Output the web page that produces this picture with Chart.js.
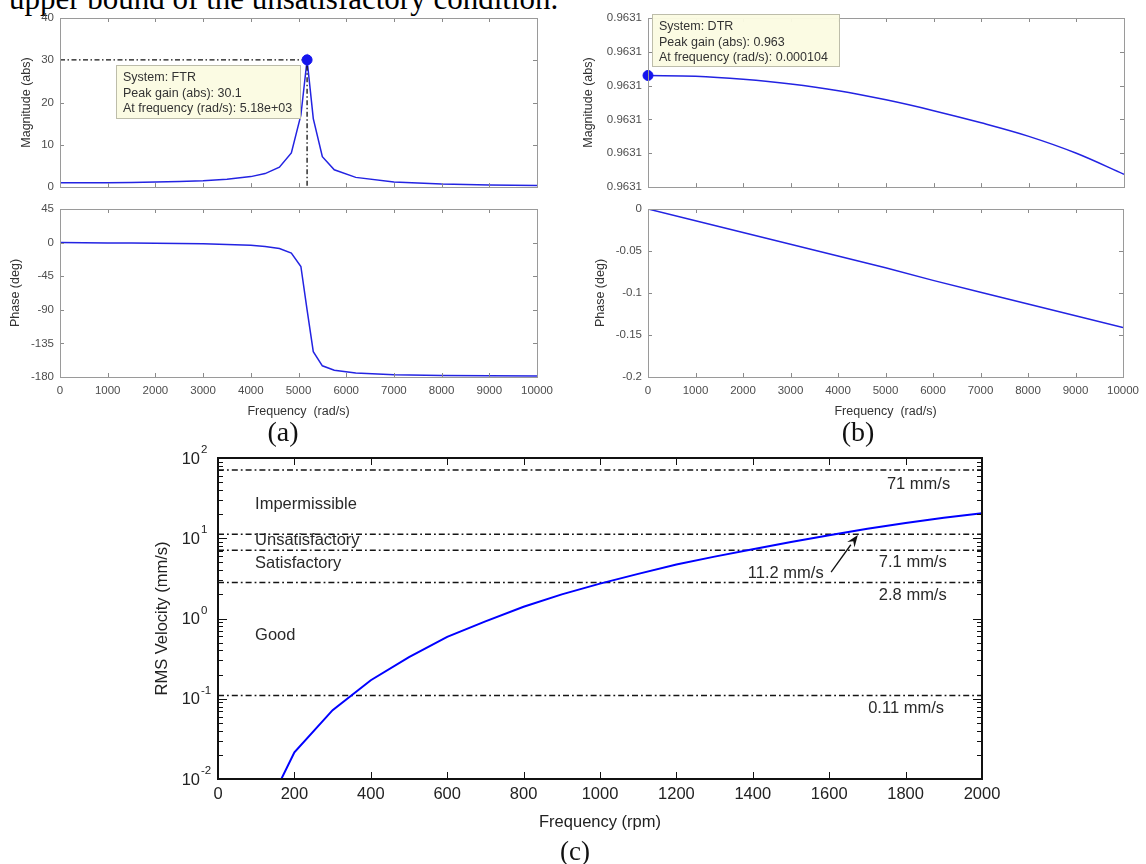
<!DOCTYPE html>
<html>
<head>
<meta charset="utf-8">
<script src="https://cdn.jsdelivr.net/npm/chart.js@4.4.1/dist/chart.umd.min.js"></script>
<style>
html,body{margin:0;padding:0;background:#fff;}
body{width:1146px;height:864px;position:relative;overflow:hidden;font-family:"Liberation Sans",Arial,sans-serif;}
.cv{position:absolute;}
.cap{position:absolute;font-family:"Liberation Serif","Times New Roman",serif;color:#111;line-height:1;transform:translate(-50%,-50%);white-space:nowrap;}
#toptext{position:absolute;left:9px;top:-17px;font-family:"Liberation Serif","Times New Roman",serif;font-size:31px;line-height:1;color:#000;white-space:nowrap;}
</style>
</head>
<body>
<div id="toptext">upper bound of the unsatisfactory condition.</div>
<canvas id="a1" class="cv" width="560" height="200" style="left:0;top:0"></canvas>
<canvas id="a2" class="cv" width="560" height="230" style="left:0;top:195px"></canvas>
<canvas id="b1" class="cv" width="576" height="200" style="left:570px;top:0"></canvas>
<canvas id="b2" class="cv" width="576" height="230" style="left:570px;top:195px"></canvas>
<canvas id="c" class="cv" width="880" height="424" style="left:140px;top:440px"></canvas>
<div class="cap" style="left:283px;top:432px;font-size:28px">(a)</div>
<div class="cap" style="left:858px;top:432px;font-size:28px">(b)</div>
<div class="cap" style="left:575px;top:851px;font-size:27px">(c)</div>
<script>
// ---------------- data ----------------
const freqTicks = [0,1000,2000,3000,4000,5000,6000,7000,8000,9000,10000];

// (a) FTR bode
const ftrFreq  = [0,500,1000,1500,2000,2500,3000,3500,4000,4300,4600,4850,5050,5180,5310,5500,5750,6200,7000,8000,9000,10000];
const ftrMag   = [1.00,1.01,1.04,1.09,1.18,1.30,1.50,1.84,2.48,3.2,4.7,8.1,17.0,30.1,16.2,7.2,4.1,2.3,1.21,0.72,0.50,0.37];
const ftrPhase = [0,-0.2,-0.4,-0.6,-0.9,-1.2,-1.7,-2.4,-3.6,-5.1,-8.0,-14,-32,-90,-146,-165,-171,-174.7,-176.9,-177.9,-178.4,-178.7];
const ftrPeakFreq = 5180;
const ftrPeakGain = 30.1;
const magATicks = [0,10,20,30,40];
const phaseATicks = [-180,-135,-90,-45,0,45];

// (b) DTR bode
const dtrFreq  = [0,1000,2000,3000,4000,5000,6000,7000,8000,9000,10000];
const dtrMag   = [0.9630930,0.9630928,0.9630919,0.9630905,0.9630885,0.9630858,0.9630826,0.9630790,0.9630750,0.9630700,0.9630638];
const dtrPhase = [0,-0.014,-0.028,-0.042,-0.056,-0.070,-0.085,-0.099,-0.113,-0.127,-0.141];
const dtrPeakFreq = 0;
const dtrPeakGain = 0.9630930;
const magBTicks  = [0.96306,0.96307,0.96308,0.96309,0.96310,0.96311];
const magBLabels = ['0.9631','0.9631','0.9631','0.9631','0.9631','0.9631'];
const phaseBTicks  = [-0.2,-0.15,-0.1,-0.05,0];
const phaseBLabels = ['-0.2','-0.15','-0.1','-0.05','0'];

// (c) RMS velocity
const rpm = [100,200,300,400,500,600,700,800,900,1000,1100,1200,1300,1400,1500,1600,1700,1800,1900,2000];
const rmsVel = [0.0023,0.0215,0.072,0.17,0.33,0.59,0.92,1.40,2.0,2.72,3.6,4.7,5.9,7.3,9.0,10.9,13.1,15.5,18.0,20.5];
const thresholds = [71,11.2,7.1,2.8,0.11];
const rpmTicks = [0,200,400,600,800,1000,1200,1400,1600,1800,2000];
const rmsDecades = [0.01,0.1,1,10,100];
const rmsExp = ['-2','-1','0','1','2'];

// ---------------- helpers ----------------
const FONT = '"Liberation Sans", Arial, sans-serif';
Chart.defaults.font.family = FONT;
const BLUE = '#2323e2';
const LBL = '#4d4d4d', TTL = '#333333';
const pts = (xs, ys) => xs.map((v, i) => ({x: v, y: ys[i]}));
const rmsMinor = [];
for (let d = 0; d < rmsDecades.length - 1; d++) for (let k = 2; k <= 9; k++) rmsMinor.push(rmsDecades[d] * k);

const extras = {
  a1: {frame: {xTicks: freqTicks, yTicks: magATicks, len: 4, color: '#8a8a8a', box: '#9a9a9a', boxW: 1},
       box: {x0: 1174, x1: 5052, y0: 16.1, y1: 28.97,
             lines: ['System: FTR', 'Peak gain (abs): 30.1', 'At frequency (rad/s): 5.18e+03']}},
  a2: {frame: {xTicks: freqTicks, yTicks: phaseATicks, len: 4, color: '#8a8a8a', box: '#9a9a9a', boxW: 1}},
  b1: {frame: {xTicks: freqTicks, yTicks: magBTicks, len: 4, color: '#8a8a8a', box: '#9a9a9a', boxW: 1},
       box: {x0: 84, x1: 4034, y0: 0.9630956, y1: 0.9631111,
             lines: ['System: DTR', 'Peak gain (abs): 0.963', 'At frequency (rad/s): 0.000104']}},
  b2: {frame: {xTicks: freqTicks, yTicks: phaseBTicks, len: 4, color: '#8a8a8a', box: '#9a9a9a', boxW: 1}},
  c: {frame: {xTicks: rpmTicks, yTicks: rmsDecades, yMinor: rmsMinor, len: 7, yLen: 9, minorLen: 5, color: '#111', box: '#111', boxW: 2},
      logLabels: true,
      texts: [
        {t: 'Impermissible', x: 97, y: 26.7},
        {t: 'Unsatisfactory', x: 97, y: 9.5},
        {t: 'Satisfactory', x: 97, y: 4.9},
        {t: 'Good', x: 97, y: 0.62},
        {t: '71 mm/s', x: 1751, y: 47.4},
        {t: '7.1 mm/s', x: 1730, y: 5.06},
        {t: '2.8 mm/s', x: 1730, y: 1.96},
        {t: '0.11 mm/s', x: 1702, y: 0.0767},
        {t: '11.2 mm/s', x: 1387, y: 3.69}
      ],
      arrow: {x0: 1605, y0: 3.79, x1: 1675, y1: 10.97}}
};

const framePlugin = {
  id: 'mframe',
  afterDatasetsDraw(chart) {
    const e = extras[chart.canvas.id]; if (!e || !e.frame) return;
    const f = e.frame;
    const {ctx, chartArea: a, scales: {x, y}} = chart;
    ctx.save();
    ctx.strokeStyle = f.color; ctx.lineWidth = 1;
    ctx.beginPath();
    const yl = f.yLen || f.len;
    f.xTicks.forEach(v => { const p = Math.round(x.getPixelForValue(v)) + 0.5;
      ctx.moveTo(p, a.bottom); ctx.lineTo(p, a.bottom - f.len);
      ctx.moveTo(p, a.top); ctx.lineTo(p, a.top + f.len); });
    f.yTicks.forEach(v => { const p = Math.round(y.getPixelForValue(v)) + 0.5;
      ctx.moveTo(a.left, p); ctx.lineTo(a.left + yl, p);
      ctx.moveTo(a.right, p); ctx.lineTo(a.right - yl, p); });
    (f.yMinor || []).forEach(v => { const p = Math.round(y.getPixelForValue(v)) + 0.5;
      ctx.moveTo(a.left, p); ctx.lineTo(a.left + f.minorLen, p);
      ctx.moveTo(a.right, p); ctx.lineTo(a.right - f.minorLen, p); });
    ctx.stroke();
    ctx.strokeStyle = f.box; ctx.lineWidth = f.boxW;
    const o = f.boxW % 2 ? 0.5 : 0;
    ctx.strokeRect(Math.round(a.left) + o, Math.round(a.top) + o, Math.round(a.right - a.left), Math.round(a.bottom - a.top));
    ctx.restore();
  }
};

const notesPlugin = {
  id: 'mnotes',
  afterDraw(chart) {
    const e = extras[chart.canvas.id]; if (!e) return;
    const {ctx, chartArea: a, scales: {x, y}} = chart;
    ctx.save();
    if (e.box) {
      const b = e.box;
      const l = Math.round(x.getPixelForValue(b.x0)), r = Math.round(x.getPixelForValue(b.x1));
      const t = Math.round(y.getPixelForValue(b.y1)), bt = Math.round(y.getPixelForValue(b.y0));
      ctx.fillStyle = 'rgba(251,251,226,0.96)'; ctx.fillRect(l, t, r - l, bt - t);
      ctx.strokeStyle = '#bdbdaa'; ctx.lineWidth = 1; ctx.strokeRect(l + 0.5, t + 0.5, r - l - 1, bt - t - 1);
      ctx.fillStyle = '#333'; ctx.font = '12.5px ' + FONT; ctx.textAlign = 'left'; ctx.textBaseline = 'middle';
      b.lines.forEach((s, i) => ctx.fillText(s, l + 7, t + 13 + i * 15.5));
    }
    if (e.logLabels) {
      ctx.fillStyle = '#222'; ctx.textBaseline = 'middle';
      rmsDecades.forEach((v, i) => {
        const p = y.getPixelForValue(v);
        ctx.font = '16.5px ' + FONT; ctx.textAlign = 'right';
        ctx.fillText('10', a.left - 18, p + 1);
        ctx.font = '11.5px ' + FONT; ctx.textAlign = 'left';
        ctx.fillText(rmsExp[i], a.left - 17, p - 8);
      });
    }
    if (e.texts) {
      ctx.fillStyle = '#2a2a2a'; ctx.font = '16.5px ' + FONT; ctx.textAlign = 'left'; ctx.textBaseline = 'middle';
      e.texts.forEach(t => ctx.fillText(t.t, x.getPixelForValue(t.x), y.getPixelForValue(t.y)));
    }
    if (e.arrow) {
      const ar = e.arrow;
      const x1 = x.getPixelForValue(ar.x0), y1 = y.getPixelForValue(ar.y0);
      const x2 = x.getPixelForValue(ar.x1), y2 = y.getPixelForValue(ar.y1);
      const ang = Math.atan2(y2 - y1, x2 - x1), L = 12, W = 4.5;
      const bx = x2 - L * Math.cos(ang), by = y2 - L * Math.sin(ang);
      ctx.strokeStyle = '#111'; ctx.lineWidth = 1.3;
      ctx.beginPath(); ctx.moveTo(x1, y1); ctx.lineTo(bx, by); ctx.stroke();
      ctx.fillStyle = '#111';
      ctx.beginPath(); ctx.moveTo(x2, y2);
      ctx.lineTo(bx + W * Math.sin(ang), by - W * Math.cos(ang));
      ctx.lineTo(bx + 0.35 * L * Math.cos(ang), by + 0.35 * L * Math.sin(ang));
      ctx.lineTo(bx - W * Math.sin(ang), by + W * Math.cos(ang));
      ctx.closePath(); ctx.fill();
    }
    ctx.restore();
  }
};
Chart.register(framePlugin, notesPlugin);

function yLin(min, max, ticks, labels, width, title, titlePad, fontSize) {
  return {
    type: 'linear', min, max,
    afterBuildTicks: s => { s.ticks = ticks.map(v => ({value: v})); },
    afterFit: s => { s.width = width; },
    ticks: {color: LBL, font: {size: fontSize || 11.5}, padding: 6, autoSkip: false,
            callback: (v, i) => labels ? labels[i] : String(v)},
    grid: {display: false, drawTicks: false}, border: {display: false},
    title: {display: true, text: title, color: TTL, font: {size: 12.5}, padding: {top: titlePad, bottom: 0}}
  };
}
function xLin(min, max, ticks, height, title, titlePad, showLabels) {
  return {
    type: 'linear', min, max,
    display: showLabels,
    afterBuildTicks: s => { s.ticks = ticks.map(v => ({value: v})); },
    afterFit: s => { s.height = height; },
    ticks: {color: LBL, font: {size: 11.5}, padding: 7, autoSkip: false, maxRotation: 0, callback: v => String(v)},
    grid: {display: false, drawTicks: false}, border: {display: false},
    title: {display: !!title, text: title || '', color: TTL, font: {size: 12.5}, padding: {top: 0, bottom: titlePad}}
  };
}
const common = {responsive: false, animation: false, events: [],
  plugins: {legend: {display: false}, tooltip: {enabled: false}}};

// (a) magnitude
new Chart(document.getElementById('a1'), {
  type: 'line',
  data: {datasets: [
    {data: [{x: ftrPeakFreq, y: ftrPeakGain}], showLine: false, pointRadius: 5, pointBackgroundColor: '#1515ee', pointBorderColor: '#1515ee', clip: false},
    {data: [{x: 0, y: ftrPeakGain}, {x: ftrPeakFreq, y: ftrPeakGain}, {x: ftrPeakFreq, y: 0}], borderColor: '#111', borderWidth: 1.3, borderDash: [5, 2.5, 1.5, 2.5], pointRadius: 0},
    {data: pts(ftrFreq, ftrMag), borderColor: BLUE, borderWidth: 1.5, pointRadius: 0, tension: 0}
  ]},
  options: Object.assign({}, common, {
    layout: {padding: {left: 0, top: 18, right: 23, bottom: 8}},
    scales: {x: xLin(0, 10000, freqTicks, 0, '', 0, false),
             y: yLin(0, 40, magATicks, null, 60, 'Magnitude (abs)', 19.5)}
  })
});
// (a) phase
new Chart(document.getElementById('a2'), {
  type: 'line',
  data: {datasets: [{data: pts(ftrFreq, ftrPhase), borderColor: BLUE, borderWidth: 1.5, pointRadius: 0, tension: 0}]},
  options: Object.assign({}, common, {
    layout: {padding: {left: 0, top: 14, right: 23, bottom: 0}},
    scales: {x: xLin(0, 10000, freqTicks, 48, 'Frequency  (rad/s)', 5.5, true),
             y: yLin(-180, 45, phaseATicks, null, 60, 'Phase (deg)', 8.5)}
  })
});
// (b) magnitude
new Chart(document.getElementById('b1'), {
  type: 'line',
  data: {datasets: [
    {data: [{x: dtrPeakFreq, y: dtrPeakGain}], showLine: false, pointRadius: 5, pointBackgroundColor: '#1515ee', pointBorderColor: '#1515ee', clip: false},
    {data: pts(dtrFreq, dtrMag), borderColor: BLUE, borderWidth: 1.5, pointRadius: 0, tension: 0.35, cubicInterpolationMode: 'monotone'}
  ]},
  options: Object.assign({}, common, {
    layout: {padding: {left: 0, top: 18, right: 22, bottom: 8}},
    scales: {x: xLin(0, 10000, freqTicks, 0, '', 0, false),
             y: yLin(0.96306, 0.96311, magBTicks, magBLabels, 78, 'Magnitude (abs)', 11.5)}
  })
});
// (b) phase
new Chart(document.getElementById('b2'), {
  type: 'line',
  data: {datasets: [{data: pts(dtrFreq, dtrPhase), borderColor: BLUE, borderWidth: 1.5, pointRadius: 0, tension: 0}]},
  options: Object.assign({}, common, {
    layout: {padding: {left: 0, top: 14, right: 22, bottom: 0}},
    scales: {x: xLin(0, 10000, freqTicks, 48, 'Frequency  (rad/s)', 5.5, true),
             y: yLin(-0.2, 0, phaseBTicks, phaseBLabels, 78, 'Phase (deg)', 23.5)}
  })
});
// (c) RMS velocity
const cSets = [{data: pts(rpm, rmsVel), borderColor: '#0000ff', borderWidth: 2, pointRadius: 0, tension: 0}];
thresholds.forEach(t => cSets.push({
  data: [{x: rpmTicks[0], y: t}, {x: rpmTicks[rpmTicks.length - 1], y: t}],
  borderColor: '#151515', borderWidth: 1.5, borderDash: [6, 3, 1.8, 3], pointRadius: 0
}));
new Chart(document.getElementById('c'), {
  type: 'line',
  data: {datasets: cSets},
  options: Object.assign({}, common, {
    layout: {padding: {left: 0, top: 18, right: 38, bottom: 0}},
    scales: {
      x: {type: 'linear', min: 0, max: 2000,
          afterBuildTicks: s => { s.ticks = rpmTicks.map(v => ({value: v})); },
          afterFit: s => { s.height = 85; },
          ticks: {color: '#222', font: {size: 16.5}, padding: 6, autoSkip: false, maxRotation: 0, callback: v => String(v)},
          grid: {display: false, drawTicks: false}, border: {display: false},
          title: {display: true, text: 'Frequency (rpm)', color: '#222', font: {size: 16.5}, padding: {top: 0, bottom: 32}}},
      y: {type: 'logarithmic', min: 0.01, max: 100,
          afterFit: s => { s.width = 78; },
          ticks: {display: false},
          grid: {display: false, drawTicks: false}, border: {display: false},
          title: {display: true, text: 'RMS Velocity (mm/s)', color: '#222', font: {size: 16.5}, padding: {top: 13, bottom: 0}}}
    }
  })
});
</script>
</body>
</html>
